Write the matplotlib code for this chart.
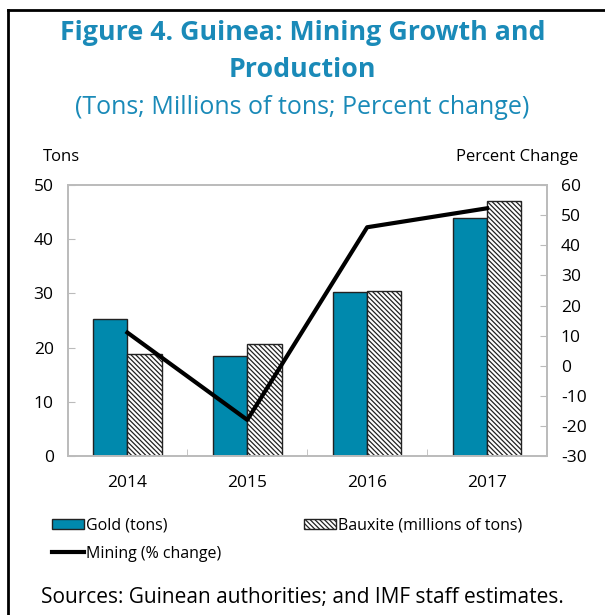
import matplotlib.pyplot as plt
import numpy as np

plt.rcParams['font.family'] = ['Open Sans', 'DejaVu Sans']
plt.rcParams['axes.unicode_minus'] = False
plt.rcParams['hatch.linewidth'] = 0.9
plt.rcParams['hatch.color'] = '#555555'

years = ['2014', '2015', '2016', '2017']
gold = [25.2, 18.5, 30.2, 43.9]
bauxite = [18.9, 20.7, 30.5, 47.1]
mining = [11.0, -18.0, 46.0, 52.3]

teal = '#0089ad'
title_col = '#1a8ab8'

fig = plt.figure(figsize=(6.05, 6.15), dpi=100)
ax = fig.add_axes([0.1116, 0.2585, 0.7924, 0.4405])

x = np.arange(len(years))
w = 0.286
b1 = ax.bar(x - w/2, gold, w, color=teal, edgecolor='#222222', linewidth=1, label='Gold (tons)', zorder=2)
b2 = ax.bar(x + w/2, bauxite, w, color='white', edgecolor='#222222', linewidth=1,
            hatch='\\' * 7, label='Bauxite (millions of tons)', zorder=2)
ax.set_ylim(0, 50)
ax.set_xlim(-0.5, 3.5)
ax.set_yticks(range(0, 51, 10))
ax.set_xticks(x)
ax.set_xticklabels(years)
ax.set_xticks([0.5, 1.5, 2.5], minor=True)
ax.tick_params(axis='x', which='major', length=0, pad=14, labelsize=12.5)
ax.tick_params(axis='x', which='minor', length=5, direction='in', color='#bbbbbb')
ax.tick_params(axis='y', direction='in', length=5, color='#bbbbbb', labelsize=12.5, pad=10)

ax2 = ax.twinx()
ln, = ax2.plot(x, mining, color='black', linewidth=3, label='Mining (% change)', zorder=3)
ax2.set_ylim(-30, 60)
ax2.set_yticks(range(-30, 61, 10))
ax2.tick_params(axis='y', direction='in', length=5, color='#bbbbbb', labelsize=12.5, pad=10)

for a in (ax, ax2):
    for s in a.spines.values():
        s.set_color('#bbbbbb')
        s.set_linewidth(1.2)

fig.text(0.5, 0.947, 'Figure 4. Guinea: Mining Growth and', ha='center', va='center',
         fontsize=19.3, fontweight='bold', color=title_col)
fig.text(0.5, 0.886, 'Production', ha='center', va='center',
         fontsize=19.3, fontweight='bold', color=title_col)
fig.text(0.5, 0.826, '(Tons; Millions of tons; Percent change)', ha='center', va='center',
         fontsize=18, color=title_col)
fig.text(0.071, 0.745, 'Tons', ha='left', va='center', fontsize=12)
fig.text(0.955, 0.745, 'Percent Change', ha='right', va='center', fontsize=12)

fig.legend([b1, ln, b2], ['Gold (tons)', 'Mining (% change)', 'Bauxite (millions of tons)'],
           ncol=2, loc='upper left', bbox_to_anchor=(0.086, 0.158), frameon=False,
           fontsize=11.5, handlelength=2.0, handleheight=0.6, handletextpad=0.15,
           columnspacing=5.15, labelspacing=0.75, borderpad=0, borderaxespad=0)

fig.text(0.5, 0.028, 'Sources: Guinean authorities; and IMF staff estimates.', ha='center',
         va='center', fontsize=15)

fig.add_artist(plt.Line2D([0.013, 0.013], [0, 0.984], color='black', linewidth=2, transform=fig.transFigure))
fig.add_artist(plt.Line2D([0.013, 1.0], [0.984, 0.984], color='black', linewidth=2, transform=fig.transFigure))

fig.savefig('out.png', dpi=100)
